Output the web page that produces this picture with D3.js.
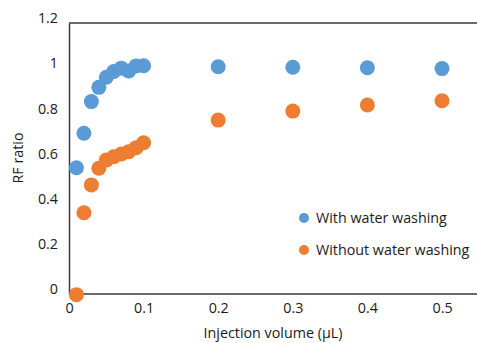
<!DOCTYPE html>
<html><head><meta charset="utf-8">
<script src="https://cdn.jsdelivr.net/npm/d3@7"></script>
<style>html,body{margin:0;padding:0;background:#fff}svg{display:block}</style>
</head><body>
<script>
const xValues = [0.01,0.02,0.03,0.04,0.05,0.06,0.07,0.08,0.09,0.1,0.2,0.3,0.4,0.5];
const withWashing = [0.559,0.712,0.852,0.915,0.96,0.985,1.0,0.988,1.01,1.011,1.006,1.004,1.002,0.998];
const withoutWashing = [-0.003,0.36,0.483,0.557,0.593,0.608,0.62,0.63,0.648,0.67,0.77,0.81,0.837,0.856];
const xTicks = [0,0.1,0.2,0.3,0.4,0.5];
const yTicks = [0,0.2,0.4,0.6,0.8,1,1.2];
const seriesNames = ["With water washing","Without water washing"];
const colors = ["#5B9BD5","#ED7D31"];

const W = 477, H = 343;
const svg = d3.select("body").append("svg").attr("width",W).attr("height",H);
const font = "'Open Sans', sans-serif";
const fs = 14.3;
const x = d3.scaleLinear().domain([0,0.6]).range([69,69+447.6]);
const y = d3.scaleLinear().domain([0,1.2]).range([294,23]);

// frame
const axCol = "#3a3a3a";
svg.append("line").attr("x1",x(0)).attr("x2",W+5).attr("y1",y(1.2)).attr("y2",y(1.2)).attr("stroke",axCol).attr("stroke-width",1.5);
const xAxis = d3.axisBottom(x).tickValues(xTicks).tickSize(0).tickPadding(9).tickFormat(d=>d3.format("")(d));
const gx = svg.append("g").attr("transform",`translate(0,${y(0)})`).call(xAxis);
gx.select(".domain").attr("stroke",axCol).attr("stroke-width",1.5).attr("d",`M${x(0)},0H${W+5}`);
gx.selectAll("text").attr("font-family",font).attr("font-size",fs).attr("fill","#1a1a1a").attr("dy","0.7em");
const yAxis = d3.axisLeft(y).tickValues(yTicks).tickSize(0).tickPadding(11).tickFormat(d=>d3.format("")(d));
const gy = svg.append("g").attr("transform",`translate(${x(0)},0)`).call(yAxis);
gy.select(".domain").attr("stroke",axCol).attr("stroke-width",1.5);
gy.selectAll("text").attr("font-family",font).attr("font-size",fs).attr("fill","#1a1a1a").attr("dy","-0.02em");

// points
[withWashing, withoutWashing].forEach((vals,i)=>{
  svg.append("g").selectAll("circle").data(vals).join("circle")
    .attr("cx",(d,j)=>x(xValues[j])).attr("cy",d=>y(d)).attr("r",7.5).attr("fill",colors[i]);
});

// axis titles
svg.append("text").attr("x",273).attr("y",338).attr("text-anchor","middle")
  .attr("font-family",font).attr("font-size",fs).attr("fill","#1a1a1a").text("Injection volume (µL)");
svg.append("text").attr("transform","translate(23,158) rotate(-90)").attr("text-anchor","middle")
  .attr("font-family",font).attr("font-size",fs).attr("fill","#1a1a1a").text("RF ratio");

// legend
const leg = svg.append("g");
seriesNames.forEach((n,i)=>{
  const ly = 218 + i*32;
  leg.append("circle").attr("cx",304).attr("cy",ly).attr("r",5).attr("fill",colors[i]);
  leg.append("text").attr("x",316).attr("y",ly+5).attr("font-family",font).attr("font-size",fs)
    .attr("fill","#1a1a1a").text(n);
});
</script>
</body></html>
